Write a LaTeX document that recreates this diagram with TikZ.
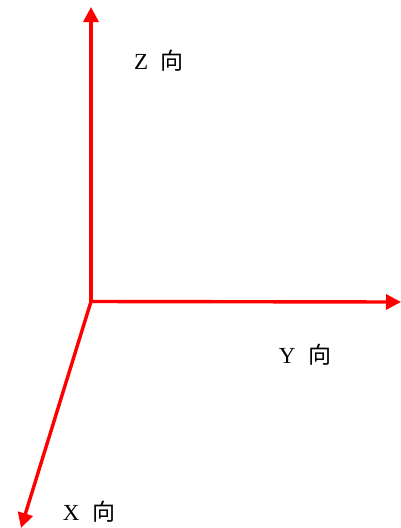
\documentclass[tikz,border=0pt]{standalone}
\usepackage{fontspec}
\setmainfont{Liberation Serif}
\newfontfamily\cjk{Noto Sans CJK SC}
\usepackage{tikz}
\usetikzlibrary{arrows.meta}

\begin{document}
\begin{tikzpicture}[
      x=1pt, y=-1pt,
      axis/.style={draw=red, line width=3.4pt,
          -{Triangle[length=15pt, width=15pt]}},
      lbl/.style={font=\fontsize{23}{25}\selectfont, inner sep=0pt},
    ]

    \useasboundingbox (0,0) rectangle (401,528);

    %% --- Origin and axis ends ---
    \coordinate (o)  at (91,301.5);
    \coordinate (zt) at (91,7);
    \coordinate (yt) at (401,302);
    \coordinate (xt) at (21,528);

    %% --- Axes ---
    \draw[axis] (o) -- (zt);
    \draw[axis] ([xshift=-1pt]o) -- (yt);
    \draw[axis] (o) -- (xt);

    %% --- Labels ---
    \node[lbl] (zlab) at (159,61)  {Z\hspace{0.55em}{\cjk 向}};
    \node[lbl] (ylab) at (305,355) {Y\hspace{0.55em}{\cjk 向}};
    \node[lbl] (xlab) at (89,512)  {X\hspace{0.55em}{\cjk 向}};

  \end{tikzpicture}
\end{document}
